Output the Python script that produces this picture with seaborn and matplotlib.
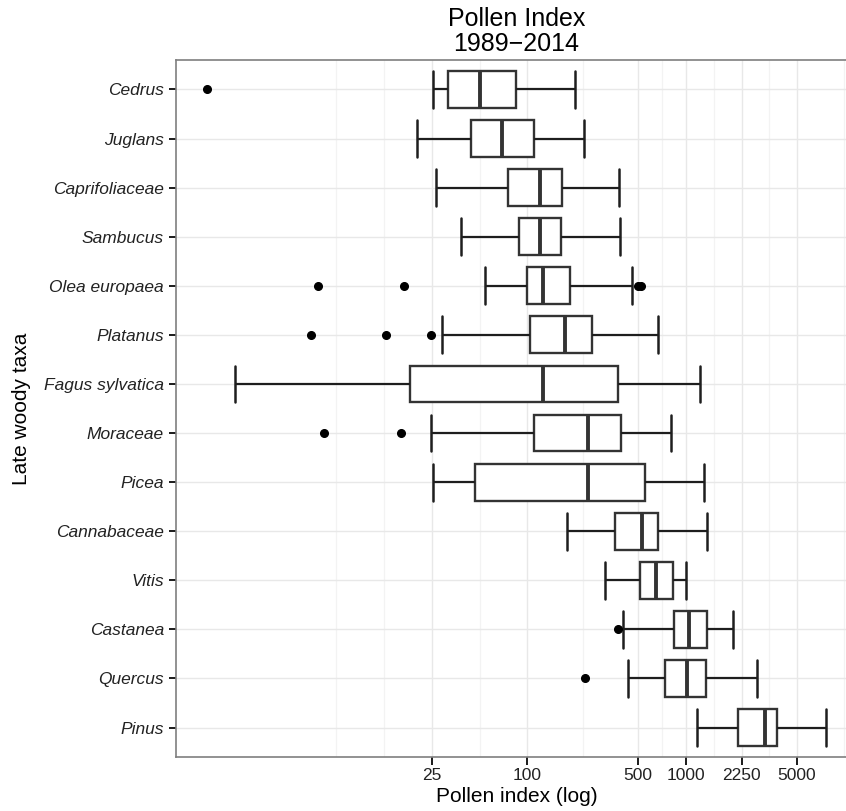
import numpy as np
import pandas as pd
import matplotlib
matplotlib.use("Agg")
import matplotlib.pyplot as plt
import seaborn as sns
from matplotlib.ticker import FixedLocator, NullFormatter

# ---- data (values on the original scale) ----
taxa = ["Cedrus", "Juglans", "Caprifoliaceae", "Sambucus", "Olea europaea",
        "Platanus", "Fagus sylvatica", "Moraceae", "Picea", "Cannabaceae",
        "Vitis", "Castanea", "Quercus", "Pinus"]
whisker_low = [25.4, 20.2, 26.7, 38.2, 53.8, 29.1, 1.43, 24.7, 25.4, 179, 311, 404, 431, 1173]
q1 = [31.8, 43.9, 75.9, 88.7, 99.6, 104, 18.3, 110.7, 46.9, 357, 517, 838, 734, 2141]
median = [50.3, 68.9, 119.4, 120.3, 126.2, 172.5, 126.2, 240.8, 242.2, 533, 651, 1055, 1023, 3158]
q3 = [85.3, 110.7, 164.4, 163.2, 186, 257.5, 375.6, 392.3, 556.8, 668, 827, 1365, 1347, 3762]
whisker_high = [198.6, 228.8, 381.6, 384.5, 457.8, 667.7, 1229, 811.4, 1297, 1355, 1010, 1974, 2805, 7687]
outliers = [[0.96], [], [], [], [4.77, 16.7, 499, 525], [4.29, 12.9, 24.7], [],
            [5.24, 15.9], [], [], [], [375.6], [230.2], []]

x_breaks = [25, 100, 500, 1000, 2250, 5000]
x_labels = ["25", "100", "500", "1000", "2250", "5000"]
x_minor = [6.25, 12.5, 50, 223.6, 707.1, 1500, 3354, 10000]

# ---- build samples whose box statistics reproduce the values above ----
rows = []
for i, t in enumerate(taxa):
    vals = (list(outliers[i]) + [whisker_low[i]] + [q1[i]] * 20 + [median[i]] * 20
            + [q3[i]] * 20 + [whisker_high[i]])
    rows += [(t, v) for v in vals]
df = pd.DataFrame(rows, columns=["taxon", "value"])

# ---- figure ----
sns.set_style("white")
plt.rcParams["font.family"] = ["Liberation Sans", "DejaVu Sans"]

W, H = 846, 811
fig = plt.figure(figsize=(W / 100, H / 100), dpi=100)
left, right, top, bottom = 176, 846, 60, 757
ax = fig.add_axes([left / W, 1 - bottom / H, (right - left) / W, (bottom - top) / H])

sns.boxplot(data=df, x="value", y="taxon", order=taxa, orient="y", log_scale=True,
            width=0.75, color="white", saturation=1, linecolor="#333333",
            linewidth=1.7, whis=1.5, fliersize=5.5, capwidths=0.75,
            flierprops=dict(marker="o", markerfacecolor="black",
                            markeredgecolor="black"),
            medianprops=dict(linewidth=2.8, color="#333333"),
            whiskerprops=dict(linewidth=1.6, color="#1e1e1e"),
            capprops=dict(linewidth=1.8, color="#1e1e1e"),
            ax=ax, zorder=3)

# ---- scales ----
ax.set_xscale("log")
ax.set_xlim(10 ** -0.2164, 10 ** 4.0107)
ax.set_ylim(13.6, -0.6)
ax.xaxis.set_major_locator(FixedLocator(x_breaks))
ax.set_xticks(x_breaks, labels=x_labels)
ax.xaxis.set_minor_locator(FixedLocator(x_minor))
ax.xaxis.set_minor_formatter(NullFormatter())

# ---- grid ----
ax.set_axisbelow(True)
ax.grid(which="major", axis="both", color="#e8e8e8", linewidth=1.0)
ax.grid(which="minor", axis="x", color="#f3f3f3", linewidth=0.9)

# ---- spines / ticks ----
for s in ["left", "top", "bottom"]:
    ax.spines[s].set_color("#7f7f7f")
    ax.spines[s].set_linewidth(1.2)
ax.spines["right"].set_visible(False)
ax.tick_params(axis="both", which="major", bottom=True, left=True, direction="out",
               length=5.4, width=1.4, color="#1a1a1a",
               labelsize=12.5, labelcolor="#222222")
ax.tick_params(axis="x", which="major", pad=2.5)
ax.tick_params(axis="y", which="major", pad=3.2)
ax.tick_params(axis="x", which="minor", bottom=False, length=0)
for lbl in ax.get_yticklabels():
    lbl.set_fontstyle("italic")

# ---- labels ----
ax.set_xlabel("Pollen index (log)", fontsize=15, color="black")
ax.xaxis.set_label_coords((516.5 - left) / (right - left), (bottom - 797) / (bottom - top))
ax.xaxis.label.set_va("center")
ax.set_ylabel("Late woody taxa", fontsize=15, color="black")
ax.yaxis.set_label_coords((22 - left) / (right - left), 0.5)
ax.yaxis.label.set_va("center")

fig.text(516.5 / W, 1 - 31.5 / H, "Pollen Index\n1989\u22122014", ha="center",
         va="center", fontsize=18, linespacing=1.05, color="black")

fig.savefig("out.png", dpi=100)
